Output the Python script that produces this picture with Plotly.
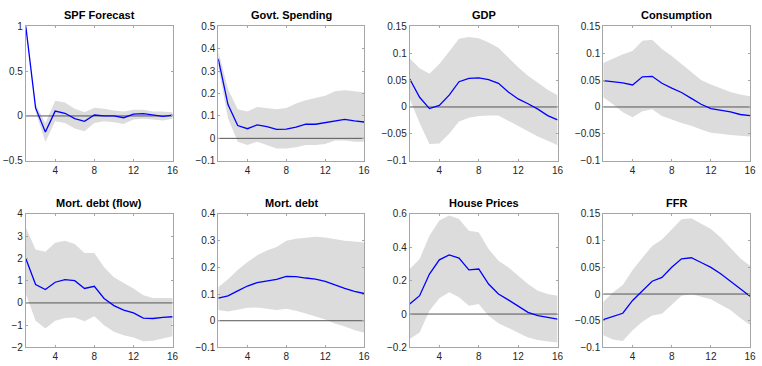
import plotly.graph_objects as go

horizon = list(range(1, 17))

titles = ["SPF Forecast", "Govt. Spending", "GDP", "Consumption",
          "Mort. debt (flow)", "Mort. debt", "House Prices", "FFR"]

# Median impulse responses
spf_mid = [1.0, 0.09, -0.18, 0.054, 0.03, -0.03, -0.06, 0.01, 0.0, 0.0, -0.02, 0.02, 0.025, 0.01, -0.005, 0.01]
gov_mid = [0.355, 0.151, 0.057, 0.043, 0.06, 0.052, 0.04, 0.041, 0.05, 0.063, 0.063, 0.07, 0.08, 0.085, 0.078, 0.073]
gdp_mid = [0.052, 0.018, -0.003, 0.003, 0.022, 0.047, 0.053, 0.054, 0.051, 0.044, 0.028, 0.015, 0.006, -0.004, -0.016, -0.024]
con_mid = [0.049, 0.047, 0.045, 0.041, 0.056, 0.057, 0.044, 0.035, 0.027, 0.016, 0.005, -0.003, -0.006, -0.009, -0.014, -0.016]
mdf_mid = [2.0, 0.83, 0.6, 0.93, 1.05, 1.0, 0.65, 0.75, 0.2, -0.12, -0.32, -0.45, -0.68, -0.7, -0.65, -0.62]
mdb_mid = [0.085, 0.093, 0.112, 0.13, 0.143, 0.15, 0.155, 0.166, 0.165, 0.16, 0.156, 0.147, 0.133, 0.121, 0.11, 0.102]
hpr_mid = [0.06, 0.11, 0.24, 0.325, 0.355, 0.335, 0.265, 0.27, 0.18, 0.12, 0.085, 0.048, 0.01, -0.01, -0.022, -0.03]
ffr_mid = [-0.048, -0.042, -0.036, -0.012, 0.007, 0.024, 0.031, 0.05, 0.066, 0.068, 0.059, 0.05, 0.038, 0.024, 0.009, -0.004]

# Upper confidence bounds
spf_hi = [1.0, 0.13, -0.08, 0.17, 0.15, 0.08, 0.04, 0.09, 0.08, 0.06, 0.05, 0.07, 0.07, 0.05, 0.05, 0.04]
gov_hi = [0.39, 0.22, 0.13, 0.12, 0.14, 0.135, 0.13, 0.135, 0.155, 0.17, 0.18, 0.19, 0.21, 0.215, 0.21, 0.205]
gdp_hi = [0.09, 0.072, 0.062, 0.08, 0.103, 0.127, 0.13, 0.128, 0.12, 0.11, 0.092, 0.074, 0.058, 0.045, 0.032, 0.022]
con_hi = [0.082, 0.09, 0.098, 0.104, 0.123, 0.125, 0.108, 0.095, 0.08, 0.065, 0.05, 0.042, 0.035, 0.028, 0.023, 0.02]
mdf_hi = [3.4, 2.4, 2.3, 2.7, 2.8, 2.65, 2.25, 2.25, 1.6, 1.15, 0.9, 0.65, 0.35, 0.22, 0.22, 0.22]
mdb_hi = [0.125, 0.155, 0.19, 0.22, 0.245, 0.263, 0.276, 0.3, 0.307, 0.312, 0.315, 0.312, 0.305, 0.3, 0.297, 0.293]
hpr_hi = [0.27, 0.33, 0.47, 0.56, 0.59, 0.57, 0.5, 0.49, 0.39, 0.32, 0.28, 0.23, 0.18, 0.14, 0.12, 0.11]
ffr_hi = [-0.015, 0.003, 0.017, 0.045, 0.068, 0.09, 0.102, 0.122, 0.14, 0.142, 0.132, 0.122, 0.106, 0.087, 0.067, 0.053]

# Lower confidence bounds
spf_lo = [1.0, 0.05, -0.29, -0.06, -0.08, -0.14, -0.17, -0.08, -0.06, -0.07, -0.09, -0.04, -0.03, -0.04, -0.05, -0.03]
gov_lo = [0.32, 0.09, -0.015, -0.03, -0.015, -0.03, -0.045, -0.045, -0.04, -0.03, -0.03, -0.025, -0.01, -0.01, -0.015, -0.015]
gdp_lo = [0.015, -0.03, -0.069, -0.068, -0.05, -0.027, -0.02, -0.017, -0.016, -0.016, -0.025, -0.035, -0.045, -0.055, -0.063, -0.071]
con_lo = [0.018, 0.005, -0.01, -0.019, -0.008, -0.004, -0.017, -0.024, -0.03, -0.035, -0.042, -0.048, -0.05, -0.052, -0.054, -0.055]
mdf_lo = [0.4, -0.8, -1.15, -0.8, -0.68, -0.65, -0.82, -0.6, -1.0, -1.3, -1.45, -1.55, -1.72, -1.7, -1.6, -1.5]
mdb_lo = [0.04, 0.035, 0.043, 0.049, 0.05, 0.045, 0.04, 0.045, 0.037, 0.027, 0.017, 0.005, -0.01, -0.022, -0.035, -0.045]
hpr_lo = [-0.15, -0.11, 0.02, 0.095, 0.13, 0.1, 0.05, 0.06, -0.01, -0.055, -0.08, -0.11, -0.14, -0.155, -0.165, -0.17]
ffr_lo = [-0.077, -0.085, -0.088, -0.068, -0.052, -0.04, -0.037, -0.02, -0.003, 0.0, -0.005, -0.01, -0.02, -0.03, -0.045, -0.058]

mids = [spf_mid, gov_mid, gdp_mid, con_mid, mdf_mid, mdb_mid, hpr_mid, ffr_mid]
his = [spf_hi, gov_hi, gdp_hi, con_hi, mdf_hi, mdb_hi, hpr_hi, ffr_hi]
los = [spf_lo, gov_lo, gdp_lo, con_lo, mdf_lo, mdb_lo, hpr_lo, ffr_lo]

y_ranges = [(-0.5, 1), (-0.1, 0.5), (-0.1, 0.15), (-0.1, 0.15),
            (-2, 4), (-0.1, 0.4), (-0.2, 0.6), (-0.1, 0.15)]
y_ticks = [
    [-0.5, 0, 0.5, 1],
    [-0.1, 0, 0.1, 0.2, 0.3, 0.4, 0.5],
    [-0.1, -0.05, 0, 0.05, 0.1, 0.15],
    [-0.1, -0.05, 0, 0.05, 0.1, 0.15],
    [-2, -1, 0, 1, 2, 3, 4],
    [-0.1, 0, 0.1, 0.2, 0.3, 0.4],
    [-0.2, 0, 0.2, 0.4, 0.6],
    [-0.1, -0.05, 0, 0.05, 0.1, 0.15],
]
x_ticks = [4, 8, 12, 16]

W, H = 762, 366
col_px = [(26, 174), (220, 367), (413, 562), (608, 756)]
row_px = [(21, 160), (215, 353)]

FONT = "Liberation Sans, Arial, Helvetica, sans-serif"
AXIS_COLOR = "#a6a6a6"
TEXT_COLOR = "#262626"
BAND = "#dcdcdc"

fig = go.Figure()
layout = dict(
    width=W, height=H,
    margin=dict(l=0, r=0, t=0, b=0),
    paper_bgcolor="white", plot_bgcolor="white",
    showlegend=False,
    annotations=[],
)

for i in range(8):
    r, c = divmod(i, 4)
    n = i + 1
    xa = "x" if n == 1 else f"x{n}"
    ya = "y" if n == 1 else f"y{n}"
    xkey = "xaxis" if n == 1 else f"xaxis{n}"
    ykey = "yaxis" if n == 1 else f"yaxis{n}"
    x0, x1 = col_px[c]
    top, bot = row_px[r]

    # shaded confidence band
    fig.add_trace(go.Scatter(
        x=horizon + horizon[::-1], y=his[i] + los[i][::-1],
        fill="toself", fillcolor=BAND, line=dict(width=0, color=BAND),
        mode="lines", hoverinfo="skip", xaxis=xa, yaxis=ya))
    # zero reference line
    fig.add_trace(go.Scatter(
        x=[1, 16], y=[0, 0], mode="lines",
        line=dict(color="#555555", width=1), hoverinfo="skip",
        xaxis=xa, yaxis=ya))
    # median response
    fig.add_trace(go.Scatter(
        x=horizon, y=mids[i], mode="lines",
        line=dict(color="#0000ff", width=1.3),
        xaxis=xa, yaxis=ya))

    layout[xkey] = dict(
        domain=[x0 / W, x1 / W], anchor=ya, range=[1, 16],
        tickvals=x_ticks, ticks="inside", ticklen=2, tickcolor=AXIS_COLOR,
        showgrid=False, zeroline=False, showline=True, linecolor=AXIS_COLOR,
        linewidth=1, mirror="ticks",
        tickfont=dict(family=FONT, size=10, color=TEXT_COLOR))
    layout[ykey] = dict(
        domain=[1 - bot / H, 1 - top / H], anchor=xa, range=list(y_ranges[i]),
        tickvals=y_ticks[i], ticks="inside", ticklen=2, tickcolor=AXIS_COLOR,
        showgrid=False, zeroline=False, showline=True, linecolor=AXIS_COLOR,
        linewidth=1, mirror="ticks",
        tickfont=dict(family=FONT, size=10, color=TEXT_COLOR))

    layout["annotations"].append(dict(
        text=f"<b>{titles[i]}</b>", xref="paper", yref="paper",
        x=(x0 + x1) / 2 / W, y=1 - (top - 3) / H,
        xanchor="center", yanchor="bottom", showarrow=False,
        font=dict(family=FONT, size=11, color="#000000")))

fig.update_layout(**layout)
fig.write_html("out.html")
